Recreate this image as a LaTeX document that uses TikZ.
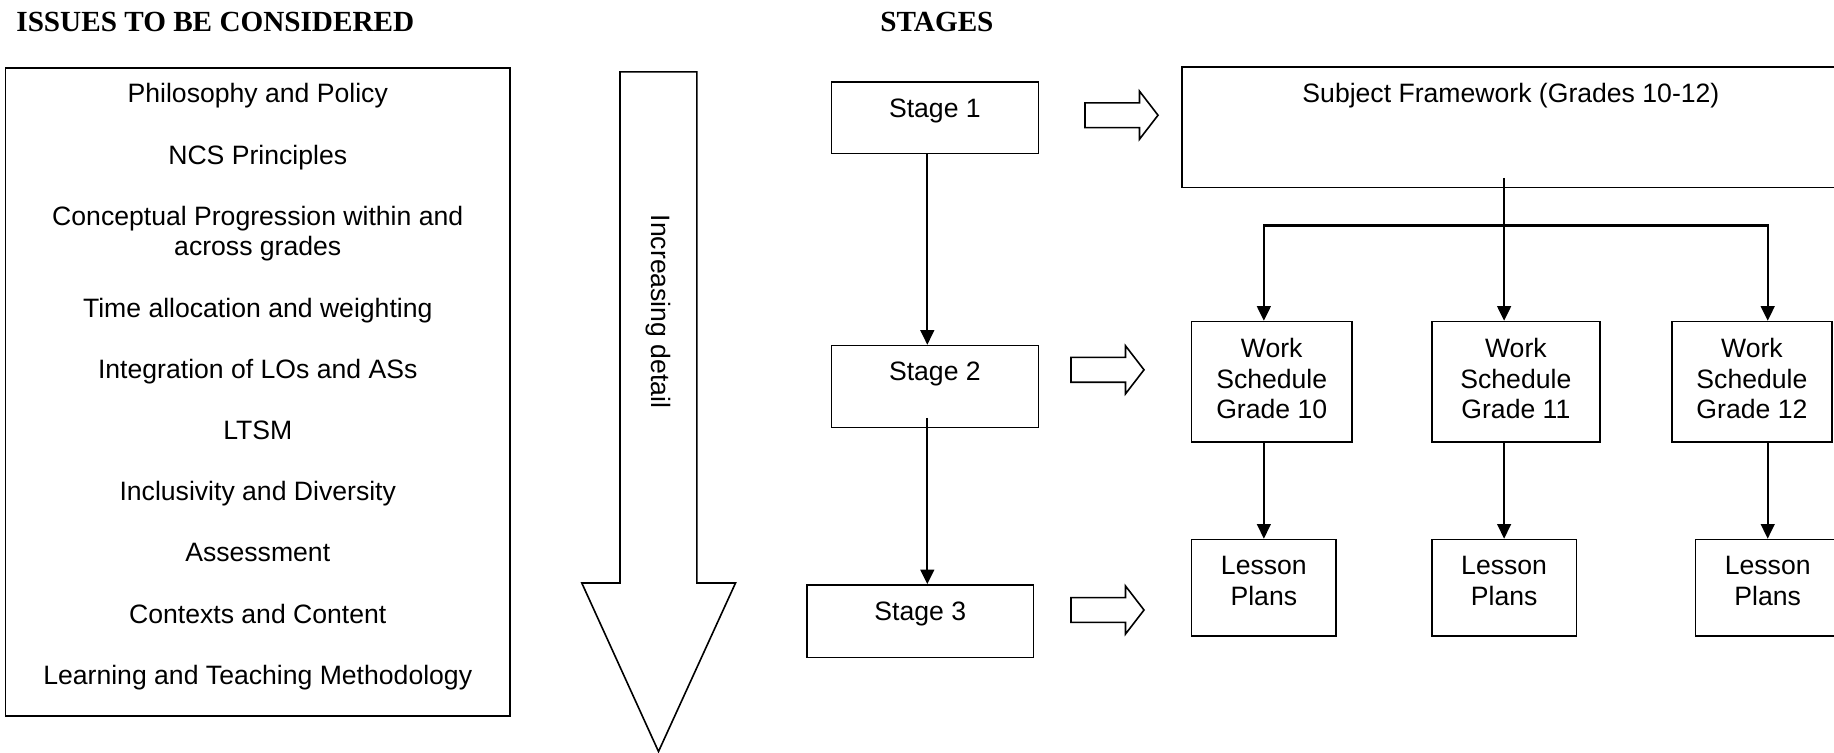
\documentclass[tikz,border=0pt]{standalone}
\usepackage{fontspec}
\setmainfont{Liberation Sans}
\newfontfamily\headfont{Liberation Serif}
\usetikzlibrary{positioning,arrows.meta}

\begin{document}
\begin{tikzpicture}[x=0.5pt, y=-0.5pt,
  box/.style={draw, line width=0.8pt, inner sep=0pt},
  boxtext/.style={inner sep=0pt, align=center, font=\fontsize{13.3}{15.3}\selectfont},
  conn/.style={line width=1.15pt, -{Triangle[length=7.3pt,width=6.8pt]}},
  heading/.style={anchor=west, inner sep=0pt, font=\headfont\bfseries\fontsize{14.6}{16}\selectfont}]

\useasboundingbox (0,0) rectangle (1834,752);

% headings
\node[heading] (issuehead) at (16,22) {ISSUES TO BE CONSIDERED};
\node[heading] (stagehead) at (880,22) {STAGES};

% list of issues
\node[box, minimum width=252.25pt, minimum height=324pt] (issues) at (257.75,392) {};
\node[boxtext, below=8pt of issues.north] (issuelist) {Philosophy and Policy\\[15.3pt]
 NCS Principles\\[15.3pt]
 Conceptual Progression within and\\ across grades\\[15.3pt]
 Time allocation and weighting\\[15.3pt]
 Integration of LOs and ASs\\[15.3pt]
 LTSM\\[15.3pt]
 Inclusivity and Diversity\\[15.3pt]
 Assessment\\[15.3pt]
 Contexts and Content\\[15.3pt]
 Learning and Teaching Methodology};

% big hollow arrow
\draw[line width=0.8pt] (620,71.8) -- (696.8,71.8) -- (696.8,583) -- (735.5,583)
 -- (658.5,751.5) -- (581.8,583) -- (620,583) -- cycle;
\node[boxtext, rotate=-90] (detail) at (658.3,311.5) {Increasing detail};

% stages
\node[box, minimum width=103.5pt, minimum height=35.85pt] (s1) at (934.9,117.7) {};
\node[boxtext, below=8.5pt of s1.north] (st1) {Stage 1};
\node[box, minimum width=103.5pt, minimum height=40.9pt] (s2) at (934.9,386.5) {};
\node[boxtext, below=8.5pt of s2.north] (st2) {Stage 2};
\node[box, minimum width=113.25pt, minimum height=36.3pt] (s3) at (920.25,621.3) {};
\node[boxtext, below=8.5pt of s3.north] (st3) {Stage 3};

\draw[conn] ([xshift=-3.8pt]s1.south) -- ([xshift=-3.8pt]s2.north);
\draw[conn] ([xshift=-3.8pt,yshift=5.2pt]s2.south) -- ([xshift=-3.8pt]s2.south |- s3.north);

% small hollow arrows
\foreach \sx/\sy in {1085/115.2, 1071/369.8, 1071/610}
 {
 \draw[line width=0.8pt] (\sx,\sy-12.4) -- (\sx+54.5,\sy-12.4) -- (\sx+54.5,\sy-24)
  -- (\sx+73,\sy) -- (\sx+54.5,\sy+24) -- (\sx+54.5,\sy+12.4) -- (\sx,\sy+12.4) -- cycle;
 }

% framework, work schedules and lesson plans
\node[box, minimum width=329.1pt, minimum height=60.2pt] (frame) at (1510.9,127.4) {};
\node[boxtext, below=8.1pt of frame.north] (frametext) {Subject Framework (Grades 10-12)};

\foreach \g/\wx/\ww/\lx in {10/1271.7/80.3/1263.85, 11/1515.85/83.95/1504.1, 12/1751.9/80.1/1767.7}
 {
 \node[box, minimum width=\ww pt, minimum height=60.2pt] (w\g) at (\wx,381.8) {};
 \node[boxtext, below=8.5pt of w\g.north] (wt\g) {Work\\Schedule\\Grade \g};
 \node[box, minimum width=72.3pt, minimum height=48.15pt] (l\g) at (\lx,587.65) {};
 \node[boxtext, below=8.5pt of l\g.north] (lt\g) {Lesson\\Plans};
 \draw[conn] (l\g.north |- w\g.south) -- (l\g.north);
 }

\coordinate (split) at (1504.1,225.5);
\draw[conn] ([yshift=5.3pt]frame.south -| split) -- (w11.north -| split);
\draw[conn] (split) -| (w10.north -| l10.north);
\draw[conn] (split) -| (w12.north -| l12.north);

\end{tikzpicture}
\end{document}
